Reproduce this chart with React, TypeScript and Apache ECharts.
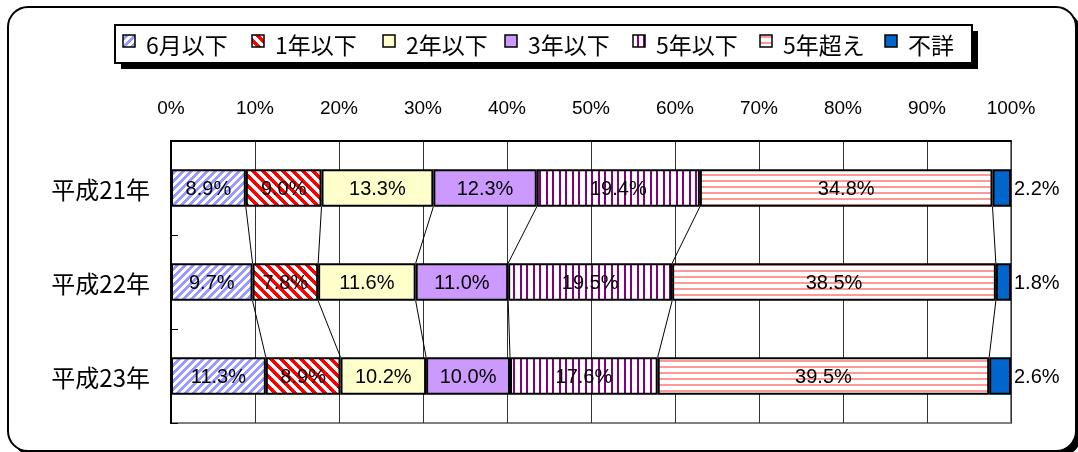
import React, { useEffect, useRef } from "react";
import * as echarts from "echarts";

const categories = ["平成21年", "平成22年", "平成23年"];
const seriesNames = ["6月以下", "1年以下", "2年以下", "3年以下", "5年以下", "5年超え", "不詳"];
const v6m = [8.9, 9.7, 11.3];
const v1y = [9.0, 7.8, 8.9];
const v2y = [13.3, 11.6, 10.2];
const v3y = [12.3, 11.0, 10.0];
const v5y = [19.4, 19.5, 17.6];
const v5over = [34.8, 38.5, 39.5];
const vUnknown = [2.2, 1.8, 2.6];
const seriesValues = [v6m, v1y, v2y, v3y, v5y, v5over, vUnknown];

function makeTile(w: number, h: number, bg: string, fg: string, test: (x: number, y: number) => boolean) {
  const c = document.createElement("canvas");
  c.width = w;
  c.height = h;
  const ctx = c.getContext("2d")!;
  ctx.fillStyle = bg;
  ctx.fillRect(0, 0, w, h);
  ctx.fillStyle = fg;
  for (let y = 0; y < h; y++) {
    for (let x = 0; x < w; x++) {
      if (test(x, y)) ctx.fillRect(x, y, 1, 1);
    }
  }
  return { image: c, repeat: "repeat", imageWidth: w, imageHeight: h } as any;
}

function makeFills() {
  return [
    makeTile(8, 8, "#ffffff", "#9999ff", (x, y) => (x + y) % 8 < 4),
    makeTile(10, 10, "#ffffff", "#ff0000", (x, y) => (((x - y) % 10) + 10) % 10 < 5),
    "#ffffcc",
    "#cc99ff",
    makeTile(13, 6, "#ffffff", "#800080", (x) => x % 13 < 2 || (x >= 6 && x < 8)),
    makeTile(6, 6, "#ffffff", "#ff9999", (_x, y) => y % 6 < 2),
    "#0066cc",
  ];
}

const LEGEND_X = [123, 252, 383, 505, 633, 760, 885];

export default function App() {
  const ref = useRef<HTMLDivElement>(null);
  useEffect(() => {
    if (!ref.current) return;
    const chart = echarts.init(ref.current, undefined, { renderer: "svg" });
    const fills = makeFills();
    const totals = categories.map((_, c) => seriesValues.reduce((s, arr) => s + arr[c], 0));
    const norm = seriesValues.map((arr) => arr.map((v, c) => (v / totals[c]) * 100));
    const cum = categories.map((_, c) => {
      const out: number[] = [];
      let s = 0;
      for (let k = 0; k < norm.length; k++) {
        s += norm[k][c];
        out.push(s);
      }
      return out;
    });
    const lineData: number[][] = [];
    for (let c = 0; c < categories.length - 1; c++) {
      for (let k = 0; k < norm.length - 1; k++) {
        lineData.push([cum[c][k], c, cum[c + 1][k]]);
      }
    }

    const barSeries = seriesNames.map((name, s) => ({
      name,
      type: "bar",
      stack: "total",
      barCategoryGap: "60%",
      data: norm[s],
      itemStyle: { color: fills[s], borderColor: "#000", borderWidth: 2 },
      label: {
        show: true,
        position: s === seriesNames.length - 1 ? "right" : "inside",
        distance: 3,
        color: "#000",
        fontSize: 20,
        fontFamily: "'Liberation Sans', Arial, sans-serif",
        formatter: (p: any) => seriesValues[s][p.dataIndex].toFixed(1) + "%",
      },
      emphasis: { disabled: true },
      z: 3,
    }));

    const legendElems: any[] = [
      { type: "rect", z: 20, shape: { x: 121, y: 31, width: 857, height: 38 }, style: { fill: "#000" } },
      { type: "rect", z: 21, shape: { x: 115, y: 25, width: 857, height: 38 }, style: { fill: "#fff", stroke: "#000", lineWidth: 2 } },
    ];
    seriesNames.forEach((name, i) => {
      legendElems.push({
        type: "rect",
        z: 22,
        shape: { x: LEGEND_X[i], y: 35, width: 12, height: 12 },
        style: { fill: fills[i], stroke: "#000", lineWidth: 1.5 },
      });
      legendElems.push({
        type: "text",
        z: 22,
        style: {
          text: name,
          x: LEGEND_X[i] + 23,
          y: 43.5,
          verticalAlign: "middle",
          fontSize: 23,
          fontFamily: "'Noto Sans CJK JP', sans-serif",
          fill: "#000",
        },
      });
    });

    chart.setOption({
      animation: false,
      graphic: [
        { type: "rect", z: -10, shape: { x: 13, y: 12, width: 1068, height: 444, r: 20 }, style: { fill: "#000" } },
        { type: "rect", z: -9, shape: { x: 8, y: 7, width: 1068, height: 444, r: 20 }, style: { fill: "#fff", stroke: "#000", lineWidth: 2 } },
        ...legendElems,
      ],
      grid: {
        left: 171,
        right: 67,
        top: 141,
        bottom: 29,
        show: true,
        borderColor: "#808080",
        borderWidth: 2,
        backgroundColor: "transparent",
      },
      xAxis: {
        type: "value",
        position: "top",
        min: 0,
        max: 100,
        interval: 10,
        axisLine: { show: true, lineStyle: { color: "#000", width: 2 } },
        axisTick: { show: false },
        axisLabel: {
          formatter: "{value}%",
          color: "#000",
          fontSize: 19,
          fontFamily: "'Liberation Sans', Arial, sans-serif",
          margin: 24,
        },
        splitLine: { show: true, lineStyle: { color: "#333", width: 1 } },
      },
      yAxis: {
        type: "category",
        inverse: true,
        data: categories,
        axisLine: { show: true, lineStyle: { color: "#000", width: 2 } },
        axisTick: { show: true, inside: true, length: 7, lineStyle: { color: "#000", width: 1 } },
        axisLabel: {
          color: "#000",
          fontSize: 24,
          fontFamily: "'Noto Sans CJK JP', sans-serif",
          margin: 21,
        },
        splitLine: { show: false },
      },
      series: [
        ...barSeries,
        {
          type: "custom",
          name: "serieslines",
          data: lineData,
          encode: { x: [0, 2], y: 1 },
          z: 4,
          silent: true,
          renderItem: (_params: any, api: any) => {
            const c = api.value(1);
            const p1 = api.coord([api.value(0), c]);
            const p2 = api.coord([api.value(2), c + 1]);
            const half = api.size([0, 1])[1] * 0.2;
            return {
              type: "line",
              shape: { x1: p1[0], y1: p1[1] + half, x2: p2[0], y2: p2[1] - half },
              style: { stroke: "#000", lineWidth: 1 },
            };
          },
        },
      ],
    });
    return () => chart.dispose();
  }, []);
  return (
    <div
      ref={ref}
      style={{ position: "fixed", left: 0, top: 0, width: 1078, height: 452 }}
    />
  );
}
